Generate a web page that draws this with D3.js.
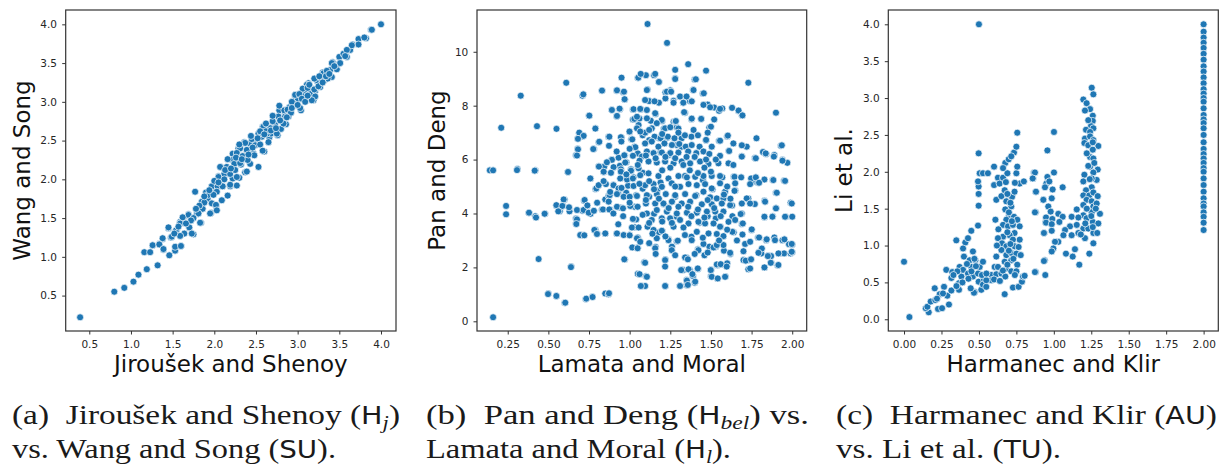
<!DOCTYPE html>
<html>
<head>
<meta charset="utf-8">
<script src="https://cdn.jsdelivr.net/npm/d3@7"></script>
<style>
body { margin: 0; background: #fff; }
.tick text { font-family: "DejaVu Sans"; font-size: 10.5px; fill: #262626; }
.tick line { stroke: #333; }
.axis-label { font-family: "DejaVu Sans"; font-size: 23px; fill: #111; }
.cap { font-family: "Liberation Serif"; font-size: 28px; fill: #1a1a1a; white-space: pre; }
</style>
</head>
<body>
<svg id="chart" width="1219" height="466"></svg>
<script>
// (a) Jiroušek and Shenoy vs Wang and Song
const jirousekWang = [
[0.39,0.22],[0.80,0.55],[0.92,0.60],[1.03,0.68],[1.09,0.77],[1.19,0.84],[1.32,0.89],[1.16,1.06],[1.23,1.06],[1.26,1.15],
[1.34,1.17],[1.38,1.23],[1.39,1.09],[1.46,1.02],[1.53,1.08],[1.60,1.14],[1.45,1.37],[1.48,1.25],[1.55,1.35],[1.59,1.45],
[1.63,1.50],[1.69,1.55],[1.70,1.38],[1.75,1.29],[1.77,1.84],[1.79,1.55],[1.84,1.44],[1.86,1.62],[1.91,1.83],[1.90,1.75],
[1.96,1.57],[1.97,1.91],[2.02,1.66],[2.02,1.85],[2.05,2.04],[2.08,2.16],[2.09,1.73],[2.10,1.91],[2.15,2.08],[2.16,1.79],
[2.19,1.91],[2.22,2.01],[2.22,2.33],[2.27,1.92],[2.29,2.40],[2.30,2.02],[2.32,2.19],[2.36,2.48],[2.37,2.09],[2.42,2.38],
[2.43,2.20],[2.47,2.33],[2.51,2.49],[2.53,2.16],[2.57,2.55],[2.58,2.68],[2.60,2.36],[2.66,2.54],[2.68,2.59],[2.71,2.69],
[2.76,2.57],[2.78,2.89],[2.80,2.65],[2.82,2.74],[2.85,2.85],[2.86,2.71],[2.89,2.81],[2.95,2.95],[2.97,3.07],[3.00,3.02],
[3.04,2.89],[3.07,3.17],[3.10,3.11],[3.13,3.24],[3.16,3.14],[3.19,3.02],[3.21,3.14],[3.24,3.26],[3.27,3.19],[3.30,3.38],
[3.32,3.28],[3.41,3.32],[3.42,3.51],[3.47,3.42],[3.50,3.49],[3.50,3.58],[3.55,3.62],[3.59,3.58],[3.63,3.67],[3.66,3.74],
[3.73,3.81],[3.73,3.74],[3.82,3.82],[3.88,3.93],[4.00,4.00],
[3.89,3.93],[3.80,3.83],[3.65,3.73],[3.59,3.67],[3.41,3.50],[3.51,3.50],[3.57,3.59],[3.31,3.37],[3.39,3.41],[3.23,3.28],
[3.29,3.29],[3.18,3.17],[3.11,3.22],[3.06,3.17],[2.97,3.09],[3.07,3.07],[3.15,3.10],[3.21,3.07],[3.17,3.02],[2.95,2.98],
[3.03,2.92],[2.90,2.93],[2.84,2.89],[2.77,2.81],[2.85,2.81],[2.83,2.72],[2.73,2.70],[2.67,2.66],[2.59,2.68],[2.63,2.59],
[2.75,2.59],[2.53,2.59],[2.50,2.51],[2.43,2.46],[2.37,2.47],[2.31,2.40],[2.39,2.38],[2.49,2.44],[2.58,2.37],[2.48,2.31],
[2.27,2.34],[2.22,2.25],[2.15,2.16],[2.24,2.20],[2.31,2.21],[2.39,2.10],[2.07,2.16],[2.12,2.07],[2.19,2.07],[2.27,2.03],
[2.05,2.03],[1.97,1.91],[2.04,1.91],[2.10,1.91],[2.19,1.93],[1.90,1.83],[2.03,1.84],[1.85,1.71],[1.92,1.75],[1.97,1.69],
[2.02,1.67],[1.86,1.62],[1.95,1.56],[2.03,1.60],[1.81,1.56],[1.69,1.54],[1.62,1.51],[1.75,1.50],[1.83,1.44],[1.59,1.43],
[1.70,1.38],[1.45,1.38],[1.54,1.34],[1.64,1.30],[1.73,1.30],[1.49,1.26],[1.59,1.27],[1.38,1.24],[1.26,1.15],[1.34,1.16],
[1.39,1.10],[1.53,1.13],[1.60,1.14],
[2.62,2.62],[2.70,2.75],[2.88,2.90],[2.92,2.86],[3.02,3.10],[3.12,3.18],[3.20,3.30],[3.26,3.33],[3.35,3.40],[3.44,3.46],
[2.55,2.62],[2.45,2.52],[2.34,2.30],[2.26,2.28],[2.13,2.12],[2.00,1.98],[1.93,1.80],[1.88,1.70],[2.40,2.25],[2.55,2.45],
[2.65,2.48],[2.93,3.00],[3.14,3.22],[3.36,3.30],
[2.25,2.12],[2.33,2.26],[2.41,2.32],[2.46,2.41],[2.52,2.53],[2.60,2.58],[2.68,2.63],[2.74,2.66],[2.79,2.76],[2.87,2.80],
[2.93,2.92],[3.00,2.96],[3.05,3.04],[3.09,3.00],[3.12,3.08],[3.20,3.16],[3.25,3.20],[3.30,3.25],[3.34,3.33],[3.38,3.36],
[2.20,2.14],[2.12,2.00],[2.05,1.96],[1.99,1.80],[1.94,1.86],[1.88,1.78],[1.82,1.66],[1.78,1.62],[1.72,1.47],[1.66,1.43],
[1.57,1.39],[1.52,1.30],[2.16,2.26],[2.30,2.45],[2.44,2.56],[2.62,2.72],[2.70,2.82],[2.78,2.95]
];

// (b) Lamata and Moral vs Pan and Deng
const lamataPan = [
[0.16,0.15],[0.14,5.6],[0.16,5.6],[0.21,7.18],[0.24,4.28],[0.24,3.97],[0.31,5.65],[0.33,8.37],[0.38,4.03],[0.42,5.6],
[0.42,3.9],[0.43,7.24],[0.44,2.31],[0.48,3.99],[0.50,1.03],[0.55,4.29],[0.55,7.14],[0.55,0.94],[0.57,4.08],[0.60,4.52],
[0.59,4.29],[0.60,0.69],[0.61,8.85],[0.62,5.54],[0.63,4.08],[0.64,2.03],[0.67,3.62],[0.67,3.81],[0.67,6.16],[0.68,6.4],
[0.69,6.98],[0.68,6.77],[0.70,3.19],[0.71,8.37],[0.71,4.1],[0.71,6.86],[0.71,3.19],[0.72,4.47],[0.73,0.83],[0.75,7.64],
[0.76,3.99],[0.76,5.3],[0.77,0.91],[0.78,6.39],[0.79,7.16],[0.79,4.91],[0.79,3.39],[0.80,3.26],[0.81,5.75],[0.81,6.64],
[0.83,8.55],[0.83,4.15],[0.84,5.54],[0.85,3.26],[0.85,4.52],[0.85,1.03],[0.87,1.0],[0.87,6.85],[0.87,4.66],[0.88,4.15],
[0.89,7.85],[0.89,6.0],[0.90,5.07],[0.92,7.61],[0.92,8.55],[0.92,3.26],[0.93,4.73],[0.94,5.77],[0.94,7.87],[0.94,4.22],
[0.95,6.82],[0.95,9.04],[0.96,8.5],[0.97,8.23],[0.97,2.29],[0.97,6.16],[0.98,5.9],[0.99,5.03],[1.00,3.2],[1.00,7.02],
[1.01,6.75],[1.01,5.62],[1.02,7.86],[1.02,7.49],[1.02,2.74],[1.03,3.49],[1.03,4.25],[1.03,6.48],[1.04,4.68],[1.05,2.74],
[1.05,3.11],[1.05,9.04],[1.05,6.23],[1.05,1.76],[1.06,7.52],[1.07,7.87],[1.07,1.31],[1.08,6.9],[1.08,5.51],[1.08,4.92],
[1.09,2.19],[1.10,1.67],[1.10,9.13],[1.11,3.51],[1.11,8.6],[1.11,11.03],[1.12,6.72],[1.12,4.62],[1.12,8.17],[1.13,7.44],
[1.15,3.99],[1.15,9.13],[1.16,7.69],[1.16,2.76],[1.17,4.85],[1.18,8.11],[1.18,8.89],[1.18,3.3],[1.18,6.8],[1.19,6.27],
[1.19,5.15],[1.20,7.43],[1.20,3.35],[1.21,4.34],[1.21,7.14],[1.22,8.27],[1.22,8.5],[1.22,2.29],[1.22,1.31],[1.23,10.33],
[1.23,6.81],[1.24,3.04],[1.24,6.17],[1.25,8.57],[1.26,2.77],[1.27,8.18],[1.27,7.4],[1.28,9.02],[1.28,9.33],[1.28,4.62],
[1.29,7.2],[1.29,2.97],[1.29,6.54],[1.29,3.88],[1.31,1.32],[1.31,8.33],[1.32,6.48],[1.33,1.9],[1.33,8.11],[1.34,7.74],
[1.34,5.39],[1.35,2.37],[1.35,1.35],[1.35,1.53],[1.36,9.54],[1.37,1.9],[1.37,8.17],[1.38,3.14],[1.38,7.5],[1.39,8.58],
[1.39,1.68],[1.40,1.43],[1.40,8.97],[1.41,4.68],[1.42,1.94],[1.42,2.67],[1.43,3.66],[1.44,7.52],[1.45,5.24],[1.45,8.45],
[1.46,2.45],[1.47,9.3],[1.47,6.72],[1.48,8.04],[1.48,3.9],[1.49,2.77],[1.49,7.19],[1.50,1.9],[1.50,1.67],[1.51,4.9],
[1.52,7.49],[1.52,7.93],[1.53,2.77],[1.53,3.82],[1.54,2.08],[1.54,1.59],[1.55,7.81],[1.55,6.7],[1.56,2.11],[1.56,3.51],
[1.57,7.9],[1.57,5.34],[1.58,2.62],[1.59,1.66],[1.60,2.15],[1.60,6.86],[1.61,6.33],[1.62,2.5],[1.63,4.3],[1.63,7.92],
[1.64,3.3],[1.64,5.36],[1.65,4.85],[1.67,7.8],[1.69,7.65],[1.69,6.12],[1.69,4.0],[1.69,3.61],[1.70,2.27],[1.72,6.48],
[1.73,4.56],[1.73,8.85],[1.73,1.93],[1.74,2.27],[1.75,3.39],[1.76,5.18],[1.77,4.35],[1.77,6.06],[1.78,6.79],[1.79,5.14],
[1.79,3.11],[1.80,2.58],[1.81,2.52],[1.82,6.28],[1.83,3.86],[1.83,4.47],[1.83,2.0],[1.84,6.21],[1.84,3.01],[1.85,2.42],
[1.87,2.18],[1.87,2.42],[1.88,3.9],[1.88,5.24],[1.89,6.17],[1.89,3.11],[1.90,7.74],[1.90,4.19],[1.90,4.77],[1.91,2.08],
[1.92,2.52],[1.93,6.51],[1.94,3.01],[1.94,5.99],[1.95,5.22],[1.95,2.52],[1.96,3.88],[1.97,5.88],[1.98,2.86],[1.99,2.52],
[1.99,4.4],[2.00,3.88],[2.00,2.56],[2.00,2.85],
[1.106,8.58],[1.095,8.21],[1.153,8.16],[1.106,7.84],[1.157,7.72],[1.198,7.47],[1.28,7.41],[1.106,7.53],[1.167,7.35],[1.218,7.16],
[1.25,7.2],[1.30,7.15],[1.095,7.0],[1.136,7.16],[1.153,6.85],[1.19,6.79],[1.235,6.85],[1.276,6.79],[1.32,6.79],[1.38,6.85],
[1.095,6.6],[1.136,6.67],[1.177,6.48],[1.214,6.6],[1.26,6.54],[1.305,6.58],[1.345,6.48],[1.382,6.54],[1.43,6.48],[1.47,6.73],
[1.505,6.48],[1.106,6.3],[1.147,6.24],[1.198,6.26],[1.25,6.24],[1.30,6.26],[1.36,6.3],[1.41,6.24],[1.454,6.3],[1.49,6.21],
[1.556,6.14],[1.116,5.93],[1.167,5.89],[1.218,5.93],[1.27,5.86],[1.32,5.93],[1.372,5.86],[1.433,5.93],[1.485,5.84],[1.608,5.86],
[1.638,5.8],[1.546,5.86],[1.075,6.11],
[1.157,9.18],[1.28,8.99],[1.407,8.98],[1.18,8.88],[1.229,8.52],[1.255,8.52],[1.393,8.58],[1.456,8.46],[1.31,8.34],[1.35,8.34],
[1.27,8.11],[1.33,8.11],[1.382,8.16],[1.454,8.03],[1.495,7.94],[1.556,7.88],[1.67,7.82],[1.694,7.64],[1.335,7.76],[1.382,7.52],
[1.44,7.51],[1.284,7.43],[1.50,7.22],[1.393,7.1],[1.34,6.9],[1.604,6.89],[1.556,6.7],[1.638,6.6],[1.69,6.53],[1.936,6.53],
[1.612,6.32],[1.69,6.11],[1.776,6.05],[1.837,6.23],[1.887,6.11],[1.94,5.96],
[1.116,5.49],[1.177,5.39],[1.239,5.3],[1.30,5.39],[1.352,5.34],[1.403,5.36],[1.454,5.39],[1.505,5.39],[1.556,5.39],[1.645,5.36],
[1.686,5.34],[1.747,5.3],[1.776,5.34],[1.829,5.26],[1.884,5.24],[1.956,5.21],[1.649,5.12],[1.741,5.09],[1.796,5.14],[1.095,5.05],
[1.147,5.09],[1.198,4.99],[1.259,5.12],[1.31,4.99],[1.362,5.09],[1.413,5.05],[1.464,5.09],[1.505,4.93],[1.556,5.12],[1.587,4.81],
[1.645,4.84],[1.905,4.77],[1.106,4.68],[1.167,4.72],[1.222,4.72],[1.28,4.68],[1.341,4.72],[1.403,4.65],[1.454,4.81],[1.495,4.6],
[1.536,4.56],[1.577,4.56],[1.72,4.56],[1.833,4.44],[1.997,4.37],[1.10,4.37],[1.157,4.37],[1.208,4.37],[1.26,4.44],[1.32,4.37],
[1.372,4.44],[1.444,4.34],[1.505,4.34],[1.567,4.37],[1.618,4.31],[1.69,4.37],[1.741,4.37],[1.90,4.19],[1.106,4.0],[1.167,4.13],
[1.229,4.07],[1.29,4.0],[1.352,4.03],[1.413,4.03],[1.475,4.07],[1.526,4.07],[1.577,4.07],[1.632,3.9],[1.683,3.98],[1.829,3.88],
[1.878,3.88],[1.956,3.88],[1.136,3.76],[1.198,3.82],[1.249,3.82],[1.31,3.76],[1.362,3.63],[1.423,3.69],[1.464,3.63],[1.516,3.63],
[1.556,3.51],[1.608,3.69],[1.649,3.76],[1.696,3.63],[1.751,3.41],[1.147,3.39],[1.198,3.36],[1.27,3.51],[1.331,3.48],[1.413,3.32],
[1.485,3.26],[1.536,3.24],[1.577,3.16],[1.632,3.32],[1.694,3.22],[1.796,3.11],[1.843,3.04],[1.894,3.01],[1.952,3.04],[1.997,2.87],
[1.167,3.08],[1.239,3.01],[1.296,2.99],[1.382,3.01],[1.454,2.87],[1.516,2.74],[1.577,2.83],[1.71,2.87],[1.741,2.95],[1.813,2.7],
[1.157,2.71],[1.259,2.64],[1.423,2.64],[1.536,2.83],[1.618,2.54],[1.792,2.54],[1.85,2.42],[1.915,2.52],[1.997,2.58],[1.218,2.27],
[1.095,2.17],[1.341,2.37],[1.358,2.3],[1.536,2.11],[1.56,2.12],[1.597,2.03],[1.714,2.25],[1.747,2.3],[1.868,2.17],[1.915,2.09],
[1.218,2.03],[1.317,1.9],[1.362,1.93],[1.419,1.96],[1.499,1.9],[1.741,1.96],[1.829,2.0],[1.386,1.75],[1.505,1.65],[1.542,1.59],
[1.587,1.65],[1.106,1.65],[1.352,1.51],[1.403,1.47],[1.095,1.31],[1.218,1.31],[1.31,1.31],[1.358,1.35],
[1.024,7.87],[1.065,7.88],[0.938,7.89],[0.891,7.84],[0.922,7.62],[1.029,7.51],[1.045,7.59],[1.055,7.28],[1.045,7.16],[0.752,7.63],
[0.789,7.15],[0.69,7.0],[0.717,6.88],[0.682,6.77],[0.813,6.66],[0.875,6.85],[0.946,6.83],[0.999,7.04],[1.016,6.75],[1.065,7.04],
[0.682,6.38],[0.676,6.15],[0.776,6.39],[0.873,6.51],[0.949,6.67],[1.035,6.46],[0.891,5.99],[0.932,6.07],[0.967,6.16],[1.02,6.14],
[0.973,5.89],[1.061,5.96],[0.844,5.74],[0.811,5.74],[0.901,5.72],[0.946,5.64],[1.008,5.64],[1.055,5.68],[0.715,8.42],[0.83,8.56],
[0.922,8.57],[0.965,8.52],[0.969,8.24],[1.053,9.04],[1.068,9.18],
[0.307,5.61],[0.416,5.59],[0.621,5.54],[0.758,5.3],[0.84,5.55],[0.885,5.51],[0.946,5.55],[1.008,5.59],[0.942,5.3],[0.984,5.26],
[1.024,5.34],[1.065,5.42],[0.795,4.93],[0.809,5.05],[0.854,5.09],[0.901,5.05],[0.932,4.93],[0.979,4.77],[1.024,5.02],[0.877,4.68],
[0.922,4.72],[0.963,4.62],[1.0,4.62],[1.045,4.65],[0.871,4.44],[0.922,4.25],[0.959,4.19],[1.004,4.28],[1.049,4.25],[0.836,4.15],
[0.875,4.15],[0.594,4.52],[0.549,4.31],[0.586,4.28],[0.627,4.23],[0.561,4.08],[0.676,4.13],[0.717,4.13],[0.748,4.03],[0.723,4.5],
[0.381,4.03],[0.424,3.85],[0.477,3.99],[0.676,3.78],[0.672,3.61],[0.783,3.39],[0.799,3.24],[0.85,3.26],[0.922,3.26],[0.963,3.2],
[1.0,3.19],[1.045,3.08],[0.696,3.2],[0.721,3.19],[1.016,2.74],[1.049,2.71],[1.065,2.95],[1.014,3.48],[1.055,3.48],[1.04,3.78],
[0.639,2.01],[0.967,2.3],[1.061,1.75],[1.069,1.31],[0.498,1.01],[0.549,0.94],[0.604,0.69],[0.733,0.84],[0.772,0.9],[0.873,1.04],
[1.02,5.3],[1.06,5.1],[1.12,5.2],[1.15,4.9],[1.2,5.6],[1.25,5.7],[1.28,5.0],[1.33,5.8],[1.37,5.6],[1.42,5.5],
[1.46,5.7],[1.5,5.55],[1.53,6.0],[1.47,6.0],[1.4,6.1],[1.35,6.1],[1.28,6.05],[1.22,6.1],[1.16,6.05],[1.1,6.15],
[1.05,5.8],[0.98,5.45],[0.95,4.95],[1.0,4.4],[1.1,4.5],[1.18,4.55],[1.24,4.2],[1.3,4.25],[1.36,4.25],[1.42,4.15],
[1.48,4.5],[1.52,4.2],[1.58,4.7],[1.6,5.0],[1.62,4.55],[1.56,3.9],[1.46,3.85],[1.38,3.9],[1.26,3.65],[1.2,3.7],
[1.12,3.65],[1.08,3.95],[1.02,3.8],[0.96,3.9],[0.9,4.0],[0.93,3.6],[1.14,3.25],[1.22,3.15],[1.34,3.2],[1.45,3.1],
[1.55,3.0],[1.6,3.4],[1.66,3.0],[1.7,2.6],[1.48,2.55],[1.4,2.5],[1.28,2.45],[1.16,2.5],[1.12,2.9],[1.3,7.0],
[1.2,6.95],[1.42,6.9],[1.48,7.0],[1.12,7.1],[1.0,6.4],[0.92,6.3],[0.86,5.9],[0.84,5.2],[0.88,4.8],[0.8,4.4],
[0.78,4.1],[0.74,4.3]
];

// (c) Harmanec and Klir vs Li et al.
const harmanecLi = [
[0.0,0.78],[0.036,0.03],[0.5,4.0],
[2.0,4.0],[2.0,3.9],[2.0,3.82],[2.0,3.75],[2.0,3.68],[2.0,3.6],[2.0,3.52],[2.0,3.43],[2.0,3.36],[2.0,3.28],
[2.0,3.2],[2.0,3.12],[2.0,3.06],[2.0,3.0],[2.0,2.95],[2.0,2.86],[2.0,2.77],[2.0,2.71],[2.0,2.66],[2.0,2.59],
[2.0,2.5],[2.0,2.4],[2.0,2.31],[2.0,2.24],[2.0,2.18],[2.0,2.12],[2.0,2.05],[2.0,2.0],[2.0,1.91],[2.0,1.82],
[2.0,1.73],[2.0,1.64],[2.0,1.57],[2.0,1.53],[2.0,1.45],[2.0,1.39],[2.0,1.31],[2.0,1.21],
[0.165,0.095],[0.145,0.15],[0.156,0.17],[0.178,0.24],[0.209,0.26],[0.227,0.14],[0.254,0.15],[0.30,0.20],[0.205,0.42],[0.267,0.44],
[0.238,0.34],[0.289,0.32],[0.316,0.39],[0.282,0.67],[0.322,0.64],[0.349,1.07],[0.367,0.40],[0.367,0.49],[0.383,0.58],[0.371,0.71],
[0.409,1.04],[0.394,0.96],[0.427,1.1],[0.449,1.2],[0.40,0.85],[0.438,0.80],[0.394,0.67],[0.427,0.62],[0.46,0.58],[0.472,0.37],
[0.449,0.71],[0.476,0.80],[0.505,0.71],[0.527,0.78],[0.494,0.62],[0.498,0.51],[0.516,0.40],[0.534,0.54],[0.527,0.47],[0.549,0.44],
[0.46,0.92],[0.494,1.27],[0.498,1.54],[0.498,1.70],[0.498,1.80],[0.494,1.87],[0.505,1.98],[0.498,2.25],[0.527,1.98],[0.56,1.98],
[0.601,2.07],[0.627,1.92],[0.601,1.82],[0.638,1.84],[0.661,1.92],[0.69,1.98],[0.676,2.12],[0.661,2.05],[0.699,2.17],[0.734,2.26],
[0.75,2.34],[0.756,2.53],[0.716,2.21],[0.75,1.98],[0.756,2.07],[0.772,1.84],[0.80,1.87],[0.868,1.99],[0.861,1.91],[0.879,1.73],
[0.879,1.45],[0.93,1.62],[0.95,1.84],[0.945,1.32],[0.935,1.17],[0.939,0.80],[0.879,0.64],[0.616,1.62],[0.65,1.67],[0.672,1.75],
[0.683,1.60],[0.721,1.66],[0.738,1.73],[0.716,1.53],[0.676,1.49],[0.699,1.39],[0.734,1.39],[0.756,1.35],[0.683,1.35],[0.661,1.28],
[0.694,1.26],[0.727,1.28],[0.772,1.26],[0.738,1.17],[0.705,1.14],[0.661,1.12],[0.772,1.08],[0.727,1.08],[0.627,1.10],[0.654,1.03],
[0.683,0.99],[0.738,0.99],[0.765,0.98],[0.616,0.85],[0.65,0.94],[0.683,0.87],[0.716,0.90],[0.75,0.89],[0.779,0.87],[0.672,0.78],
[0.716,0.80],[0.756,0.74],[0.605,0.71],[0.627,0.71],[0.683,0.69],[0.716,0.65],[0.75,0.65],[0.583,0.60],[0.616,0.61],[0.65,0.62],
[0.676,0.58],[0.583,0.53],[0.549,0.53],[0.601,0.54],[0.672,0.34],[0.727,0.43],[0.765,0.44],[0.787,0.51],[0.794,0.58],[0.805,0.59],
[0.467,0.36],[0.445,0.42],[0.356,0.65],[0.316,0.56],
[1.253,3.14],[1.264,3.05],[1.197,2.98],[1.219,2.93],[1.242,2.85],[1.208,2.83],[1.26,2.76],[1.26,2.69],[1.248,2.62],[1.264,2.59],
[1.215,2.57],[1.242,2.54],[1.208,2.45],[1.242,2.48],[1.264,2.43],[1.204,2.39],[1.23,2.36],[1.297,2.35],[1.26,2.30],[1.001,2.54],
[0.957,2.29],[1.242,2.20],[1.264,2.18],[1.242,2.07],[1.293,2.03],[1.264,1.99],[1.23,2.08],[1.204,1.96],[1.286,1.89],[1.253,1.91],
[1.197,1.87],[0.874,1.99],[0.859,1.91],[1.001,1.99],[0.957,1.93],[0.97,1.87],[0.941,1.79],[0.992,1.76],[1.059,1.79],[0.881,1.73],
[1.253,1.79],[1.215,1.75],[1.197,1.68],[1.237,1.68],[1.264,1.72],[1.293,1.67],[1.219,1.62],[1.253,1.60],[0.93,1.62],[0.986,1.64],
[1.197,1.55],[1.264,1.53],[1.286,1.57],[0.963,1.53],[1.153,1.49],[0.979,1.46],[1.253,1.45],[0.874,1.45],[1.308,1.43],[1.197,1.41],
[0.948,1.38],[0.99,1.36],[1.03,1.43],[1.059,1.39],[1.119,1.39],[1.164,1.38],[1.219,1.37],[1.26,1.32],[1.297,1.30],[0.948,1.31],
[0.986,1.29],[1.037,1.32],[1.108,1.26],[1.153,1.28],[1.197,1.23],[1.23,1.23],[1.264,1.17],[1.29,1.17],[0.934,1.17],[0.986,1.20],
[1.075,1.21],[1.119,1.14],[1.164,1.17],[1.208,1.10],[1.264,1.03],[1.064,1.14],[1.03,1.05],[1.008,1.05],[0.997,0.96],[0.986,0.92],
[1.141,0.95],[1.081,0.89],[1.126,0.85],[1.237,0.89],[1.17,0.74],[0.934,0.79],[0.874,0.64],[0.943,0.60],
[0.69,1.7],[0.71,1.58],[0.70,1.45],[0.72,1.33],[0.69,1.18],[0.71,1.02],[0.70,0.93],[0.73,0.82],[0.69,0.74],[0.74,0.6],
[0.66,0.66],[0.64,0.52],[0.62,1.0],[0.63,1.22],[0.61,1.35],[0.74,1.85],[0.68,1.86],[1.22,1.5],[1.25,1.4],[1.24,1.9],
[1.27,2.12],[1.22,2.25],[1.26,2.4],[1.23,2.7],[1.21,1.3],[1.18,1.15],[1.26,1.25],[1.28,1.5],[0.42,0.75],[0.45,0.65],
[0.48,0.72],[0.43,0.55],[0.39,0.5],[0.35,0.45],[0.33,0.6],[0.52,0.6],[0.55,0.62],[0.47,0.82],[0.26,0.35],[0.22,0.28]
];

// tick values
const ticksA = [0.5, 1.0, 1.5, 2.0, 2.5, 3.0, 3.5, 4.0];
const ticksBx = [0.25, 0.5, 0.75, 1.0, 1.25, 1.5, 1.75, 2.0];
const ticksBy = [0, 2, 4, 6, 8, 10];
const ticksCx = [0, 0.25, 0.5, 0.75, 1.0, 1.25, 1.5, 1.75, 2.0];
const ticksCy = [0, 0.5, 1.0, 1.5, 2.0, 2.5, 3.0, 3.5, 4.0];

// captions: [text, style] segments, two lines each
const captions = [
  [[["(a)  Jiroušek and Shenoy ("], ["H","sf"], ["j","sub"], [")"]],
   [["vs. Wang and Song ("], ["SU","sf"], [")."]]],
  [[["(b)  Pan and Deng ("], ["H","sf"], ["bel","sub"], [") vs."]],
   [["Lamata and Moral ("], ["H","sf"], ["l","sub"], [")."]]],
  [[["(c)  Harmanec and Klir ("], ["AU","sf"], [")"]],
   [["vs. Li et al. ("], ["TU","sf"], [")."]]]
];

const panels = [
  {data: jirousekWang, left: 65.7, right: 396, xDomain: [0.217, 4.18], yDomain: [0.043, 4.185],
   xTicks: ticksA, yTicks: ticksA, xFmt: ".1f", yFmt: ".1f",
   xLabel: "Jiroušek and Shenoy", yLabel: "Wang and Song", yLabelX: 30,
   capX: 12, capW: [388, 324]},
  {data: lamataPan, left: 477, right: 806.7, xDomain: [0.061, 2.089], yDomain: [-0.36, 11.55],
   xTicks: ticksBx, yTicks: ticksBy, xFmt: ".2f", yFmt: "d",
   xLabel: "Lamata and Moral", yLabel: "Pan and Deng", yLabelX: 445,
   capX: 426, capW: [383, 305]},
  {data: harmanecLi, left: 888.3, right: 1218.3, xDomain: [-0.105, 2.098], yDomain: [-0.159, 4.194],
   xTicks: ticksCx, yTicks: ticksCy, xFmt: ".2f", yFmt: ".1f",
   xLabel: "Harmanec and Klir", yLabel: "Li et al.", yLabelX: 852,
   capX: 836, capW: [381, 225]}
];

const plotTop = 10, plotBottom = 331;
const svg = d3.select("#chart");

panels.forEach((p, i) => {
  const x = d3.scaleLinear().domain(p.xDomain).range([p.left, p.right]);
  const y = d3.scaleLinear().domain(p.yDomain).range([plotBottom, plotTop]);
  const g = svg.append("g");

  g.append("g")
    .selectAll("circle")
    .data(p.data)
    .enter()
    .append("circle")
    .attr("cx", d => x(d[0]))
    .attr("cy", d => y(d[1]))
    .attr("r", 3.5)
    .attr("fill", "#1f77b4")
    .attr("stroke", "#fff")
    .attr("stroke-width", 0.7);

  const xAxis = g.append("g")
    .attr("transform", `translate(0,${plotBottom})`)
    .call(d3.axisBottom(x).tickValues(p.xTicks).tickFormat(d3.format(p.xFmt)).tickSize(3.5).tickPadding(6.3));
  const yAxis = g.append("g")
    .attr("transform", `translate(${p.left},0)`)
    .call(d3.axisLeft(y).tickValues(p.yTicks).tickFormat(d3.format(p.yFmt)).tickSize(3.5).tickPadding(5.2));
  xAxis.select(".domain").remove();
  yAxis.select(".domain").remove();
  g.selectAll(".tick line").attr("stroke-width", 1);

  g.append("rect")
    .attr("x", p.left).attr("y", plotTop)
    .attr("width", p.right - p.left).attr("height", plotBottom - plotTop)
    .attr("fill", "none").attr("stroke", "#333").attr("stroke-width", 1.2);

  g.append("text")
    .attr("class", "axis-label")
    .attr("x", (p.left + p.right) / 2).attr("y", 372)
    .attr("text-anchor", "middle")
    .text(p.xLabel);
  g.append("text")
    .attr("class", "axis-label")
    .attr("transform", `translate(${p.yLabelX},${(plotTop + plotBottom) / 2}) rotate(-90)`)
    .attr("text-anchor", "middle")
    .text(p.yLabel);

  // caption below the panel
  captions[i].forEach((line, li) => {
    const t = g.append("text")
      .attr("class", "cap")
      .attr("x", p.capX).attr("y", 424 + li * 34)
      .attr("textLength", p.capW[li])
      .attr("lengthAdjust", "spacingAndGlyphs");
    line.forEach(seg => {
      const s = t.append("tspan").text(seg[0]);
      if (seg[1] === "sf") s.style("font-family", "'DejaVu Sans'").style("font-size", "24px");
      if (seg[1] === "sub") s.style("font-style", "italic").style("font-size", "19px").attr("baseline-shift", "-5");
    });
  });
});
</script>
</body>
</html>
